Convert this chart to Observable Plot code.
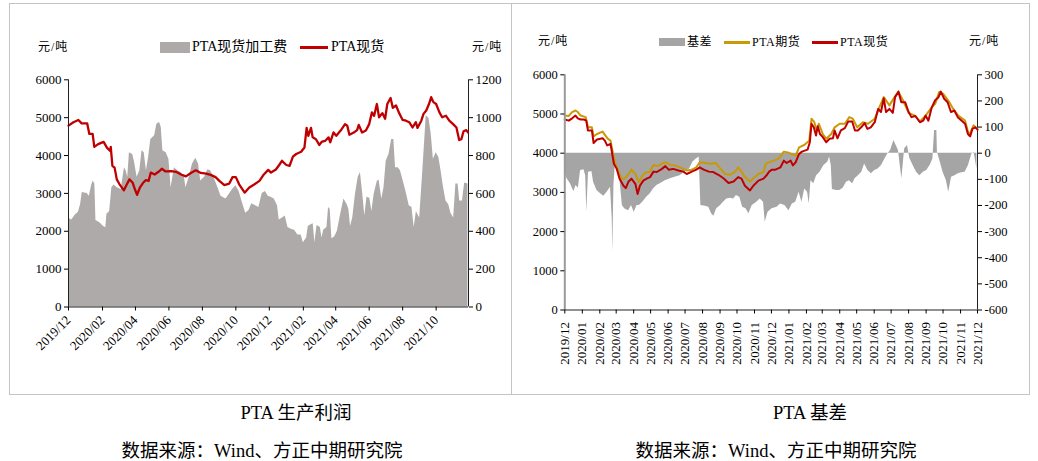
<!DOCTYPE html>
<html>
<head>
<meta charset="utf-8">
<script src="https://cdn.jsdelivr.net/npm/d3@7"></script>
<script src="https://cdn.jsdelivr.net/npm/@observablehq/plot@0.6"></script>
<style>
  html, body { margin: 0; padding: 0; background: #fff; }
  body { width: 1038px; height: 461px; position: relative; overflow: hidden;
         font-family: "Liberation Serif", "Noto Sans CJK SC", serif; color: #000; }
  .abs { position: absolute; white-space: nowrap; }
  .frame { position: absolute; border: 1px solid #c4c4c4; box-sizing: border-box; }
  .layer { position: absolute; left: 0; top: 0; }
  .layer svg { display: block; }
  .layer svg, .layer svg text, .layer svg g { font-family: "Liberation Serif", "Noto Sans CJK SC", serif !important; }
  .lg { font-size: 14px; line-height: 16px; letter-spacing: 0px; }
  .lg2 { font-size: 12px; line-height: 14px; letter-spacing: 0.5px; }
  .unit { font-size: 12px; line-height: 14px; letter-spacing: 1px; }
  .title { font-size: 18.5px; line-height: 22px; text-align: center; width: 320px; }
</style>
</head>
<body>
<div class="frame" style="left:9px;top:3px;width:1021px;height:392px;"></div>
<div class="abs" style="left:511px;top:3px;width:1px;height:392px;background:#c4c4c4;"></div>

<div id="leftPanel" class="abs" style="left:0;top:0;width:512px;height:380px;"></div>
<div id="rightPanel" class="abs" style="left:512px;top:0;width:526px;height:380px;"></div>

<!-- left legend -->
<div class="abs unit" style="left:38px;top:40px;">元/吨</div>
<div class="abs" style="left:160px;top:42px;width:30px;height:11px;background:#AEAAAA;"></div>
<div class="abs lg" style="left:192px;top:39px;" id="lgFee"></div>
<div class="abs" style="left:300px;top:46px;width:28px;height:2.5px;background:#C00000;"></div>
<div class="abs lg" style="left:331px;top:39px;" id="lgSpot"></div>
<div class="abs unit" style="left:472px;top:40px;">元/吨</div>

<!-- right legend -->
<div class="abs unit" style="left:538px;top:34px;">元/吨</div>
<div class="abs" style="left:659px;top:38px;width:26px;height:8px;background:#A5A5A5;"></div>
<div class="abs lg2" style="left:687px;top:35px;" id="lgBasis"></div>
<div class="abs" style="left:724px;top:41px;width:26px;height:2.5px;background:#C99A06;"></div>
<div class="abs lg2" style="left:752px;top:35px;" id="lgFut"></div>
<div class="abs" style="left:812px;top:41px;width:26px;height:2.5px;background:#C00000;"></div>
<div class="abs lg2" style="left:840px;top:35px;" id="lgSpot2"></div>
<div class="abs unit" style="left:969px;top:34px;">元/吨</div>

<div class="abs title" id="t1" style="left:136px;top:402px;"></div>
<div class="abs title" id="t2" style="left:650px;top:402px;"></div>
<div class="abs title" id="s1" style="left:102px;top:440px;"></div>
<div class="abs title" id="s2" style="left:616px;top:440px;"></div>

<script>
// ---------------- text ----------------
const titles = ["PTA 生产利润", "PTA 基差"];
const sourceText = "数据来源：Wind、方正中期研究院";
const legendLeft = ["PTA现货加工费", "PTA现货"];
const legendRight = ["基差", "PTA期货", "PTA现货"];

// ---------------- left chart: PTA 生产利润 ----------------
const profitTicksY = [0, 1000, 2000, 3000, 4000, 5000, 6000];
const feeTicksY = [0, 200, 400, 600, 800, 1000, 1200];
const profitTicksX = ["2019-12-01","2020-02-01","2020-04-01","2020-06-01","2020-08-01","2020-10-01",
  "2020-12-01","2021-02-01","2021-04-01","2021-06-01","2021-08-01","2021-10-01"];

// PTA现货 (元/吨, left axis)
const profitSpot = [
["2019-12-01",4790],["2019-12-10",4880],["2019-12-19",4940],["2019-12-25",4850],["2020-01-04",4850],
["2020-01-08",4570],["2020-01-14",4570],["2020-01-17",4230],["2020-01-24",4300],["2020-02-03",4360],
["2020-02-09",4210],["2020-02-15",4120],["2020-02-16",4230],["2020-02-19",3730],["2020-02-23",3680],
["2020-02-27",3370],["2020-03-03",3240],["2020-03-11",3080],["2020-03-15",3200],["2020-03-21",3370],
["2020-03-27",3280],["2020-03-30",3150],["2020-04-04",2960],["2020-04-09",3150],["2020-04-15",3280],
["2020-04-20",3350],["2020-04-25",3330],["2020-04-29",3550],["2020-05-06",3500],["2020-05-15",3590],
["2020-05-19",3650],["2020-05-26",3580],["2020-06-05",3590],["2020-06-14",3570],["2020-06-23",3500],
["2020-07-02",3450],["2020-07-11",3540],["2020-07-20",3610],["2020-07-29",3540],["2020-08-08",3520],
["2020-08-16",3490],["2020-08-25",3430],["2020-09-01",3330],["2020-09-10",3220],["2020-09-19",3260],
["2020-09-25",3430],["2020-10-01",3430],["2020-10-07",3240],["2020-10-17",3020],["2020-10-25",3150],
["2020-11-04",3240],["2020-11-13",3330],["2020-11-21",3500],["2020-11-29",3620],["2020-12-04",3550],
["2020-12-13",3630],["2020-12-19",3750],["2020-12-24",3860],["2021-01-01",3750],["2021-01-07",3730],
["2021-01-13",3970],["2021-01-19",4040],["2021-01-28",4100],["2021-02-03",4210],["2021-02-07",4730],
["2021-02-10",4520],["2021-02-15",4730],["2021-02-18",4480],["2021-02-24",4430],["2021-03-02",4280],
["2021-03-07",4370],["2021-03-13",4390],["2021-03-19",4480],["2021-03-22",4350],["2021-03-28",4610],
["2021-04-02",4520],["2021-04-10",4660],["2021-04-18",4830],["2021-04-22",4790],["2021-04-26",4550],
["2021-05-04",4610],["2021-05-10",4670],["2021-05-13",4810],["2021-05-19",4610],["2021-05-26",4660],
["2021-06-01",4830],["2021-06-06",5140],["2021-06-10",5050],["2021-06-15",5360],["2021-06-19",5010],
["2021-06-25",5120],["2021-06-30",4970],["2021-07-04",5360],["2021-07-10",5520],["2021-07-14",5260],
["2021-07-20",5320],["2021-07-25",5140],["2021-08-01",4940],["2021-08-07",4920],["2021-08-13",4880],
["2021-08-19",4740],["2021-08-25",4880],["2021-08-28",4730],["2021-09-04",4920],["2021-09-08",5100],
["2021-09-13",5190],["2021-09-18",5360],["2021-09-22",5540],["2021-09-26",5410],["2021-10-01",5360],
["2021-10-07",5140],["2021-10-12",5010],["2021-10-19",5050],["2021-10-25",4920],["2021-11-01",4830],
["2021-11-07",4740],["2021-11-12",4410],["2021-11-16",4430],["2021-11-20",4640],["2021-11-25",4670],
["2021-11-28",4610]
];

// PTA现货加工费 (元/吨, right axis)
const processingFee = [
["2019-12-01",470],["2019-12-07",460],["2019-12-13",485],["2019-12-19",500],["2019-12-23",540],
["2019-12-26",605],["2020-01-04",600],["2020-01-08",585],["2020-01-12",640],["2020-01-15",665],
["2020-01-18",650],["2020-01-20",457],["2020-01-27",445],["2020-02-03",425],["2020-02-07",418],
["2020-02-09",490],["2020-02-14",505],["2020-02-18",630],["2020-02-22",645],["2020-02-28",630],
["2020-03-06",620],["2020-03-12",735],["2020-03-15",720],["2020-03-18",685],["2020-03-21",815],
["2020-03-27",805],["2020-03-30",770],["2020-04-04",685],["2020-04-09",720],["2020-04-13",825],
["2020-04-17",815],["2020-04-21",720],["2020-04-25",790],["2020-04-29",885],["2020-05-06",905],
["2020-05-10",965],["2020-05-15",975],["2020-05-18",950],["2020-05-21",825],["2020-05-27",815],
["2020-06-01",780],["2020-06-05",630],["2020-06-11",735],["2020-06-17",720],["2020-06-23",710],
["2020-06-29",690],["2020-07-02",630],["2020-07-08",685],["2020-07-14",755],["2020-07-20",785],
["2020-07-25",755],["2020-07-29",665],["2020-08-05",685],["2020-08-11",725],["2020-08-16",720],
["2020-08-22",685],["2020-08-28",640],["2020-09-04",585],["2020-09-13",570],["2020-09-19",595],
["2020-09-25",620],["2020-10-01",640],["2020-10-07",610],["2020-10-13",550],["2020-10-19",495],
["2020-10-25",510],["2020-10-30",545],["2020-11-06",535],["2020-11-12",525],["2020-11-18",600],
["2020-11-24",610],["2020-11-29",585],["2020-12-04",580],["2020-12-10",570],["2020-12-16",535],
["2020-12-19",460],["2020-12-25",470],["2020-12-30",480],["2021-01-04",420],["2021-01-10",410],
["2021-01-16",405],["2021-01-22",380],["2021-01-28",380],["2021-02-01",340],["2021-02-07",365],
["2021-02-10",425],["2021-02-15",435],["2021-02-19",440],["2021-02-22",340],["2021-02-26",430],
["2021-03-04",420],["2021-03-07",365],["2021-03-10",405],["2021-03-16",420],["2021-03-19",525],
["2021-03-22",515],["2021-03-25",360],["2021-03-30",370],["2021-04-04",400],["2021-04-10",490],
["2021-04-16",570],["2021-04-22",540],["2021-04-25",515],["2021-04-28",425],["2021-05-02",470],
["2021-05-07",595],["2021-05-12",685],["2021-05-16",710],["2021-05-20",605],["2021-05-24",480],
["2021-05-28",580],["2021-06-02",575],["2021-06-06",505],["2021-06-10",595],["2021-06-16",665],
["2021-06-19",670],["2021-06-24",570],["2021-06-28",630],["2021-07-02",770],["2021-07-07",805],
["2021-07-12",885],["2021-07-16",885],["2021-07-19",735],["2021-07-24",735],["2021-07-28",720],
["2021-08-02",665],["2021-08-07",610],["2021-08-13",535],["2021-08-18",525],["2021-08-22",420],
["2021-08-26",505],["2021-09-01",470],["2021-09-06",685],["2021-09-10",870],["2021-09-13",1010],
["2021-09-18",995],["2021-09-22",915],["2021-09-26",780],["2021-10-01",815],["2021-10-06",790],
["2021-10-10",720],["2021-10-14",640],["2021-10-19",560],["2021-10-24",540],["2021-10-28",495],
["2021-11-02",470],["2021-11-06",650],["2021-11-10",650],["2021-11-13",560],["2021-11-18",560],
["2021-11-22",655],["2021-11-28",650]
];

// ---------------- right chart: PTA 基差 ----------------
const basisTicksY = [0, 1000, 2000, 3000, 4000, 5000, 6000];
const basisTicksY2 = [-600, -500, -400, -300, -200, -100, 0, 100, 200, 300];
const basisTicksX = ["2019-12-01","2020-01-01","2020-02-01","2020-03-01","2020-04-01","2020-05-01",
  "2020-06-01","2020-07-01","2020-08-01","2020-09-01","2020-10-01","2020-11-01","2020-12-01",
  "2021-01-01","2021-02-01","2021-03-01","2021-04-01","2021-05-01","2021-06-01","2021-07-01",
  "2021-08-01","2021-09-01","2021-10-01","2021-11-01","2021-12-01"];

// 基差 (元/吨, right axis)
const basis = [
["2019-12-01",-73],["2019-12-05",-98],["2019-12-11",-117],["2019-12-17",-147],["2019-12-21",-124],
["2019-12-25",-134],["2019-12-29",-66],["2020-01-04",-63],["2020-01-07",-86],["2020-01-09",-226],
["2020-01-12",-73],["2020-01-18",-70],["2020-01-21",-111],["2020-01-27",-143],["2020-02-03",-156],
["2020-02-08",-165],["2020-02-14",-149],["2020-02-20",-130],["2020-02-23",-252],["2020-02-24",-379],
["2020-02-26",-124],["2020-02-29",-28],["2020-03-07",-86],["2020-03-12",-200],["2020-03-16",-213],
["2020-03-23",-220],["2020-03-28",-200],["2020-04-02",-226],["2020-04-07",-200],["2020-04-11",-200],
["2020-04-17",-188],["2020-04-24",-169],["2020-04-30",-156],["2020-05-06",-137],["2020-05-12",-124],
["2020-05-18",-117],["2020-05-27",-105],["2020-06-05",-98],["2020-06-13",-92],["2020-06-22",-86],
["2020-06-30",-73],["2020-07-09",-60],["2020-07-15",-34],["2020-07-21",-22],["2020-07-26",-15],
["2020-07-29",-200],["2020-08-06",-203],["2020-08-12",-207],["2020-08-17",-232],["2020-08-21",-241],
["2020-08-26",-213],["2020-09-02",-200],["2020-09-07",-188],["2020-09-13",-175],["2020-09-19",-172],
["2020-09-25",-175],["2020-09-30",-162],["2020-10-06",-169],["2020-10-11",-207],["2020-10-17",-213],
["2020-10-22",-232],["2020-10-28",-200],["2020-11-05",-188],["2020-11-11",-175],["2020-11-17",-188],
["2020-11-20",-264],["2020-11-25",-226],["2020-12-02",-213],["2020-12-11",-207],["2020-12-17",-194],
["2020-12-25",-200],["2021-01-01",-220],["2021-01-07",-194],["2021-01-13",-188],["2021-01-19",-149],
["2021-01-24",-188],["2021-01-29",-137],["2021-02-03",-149],["2021-02-06",-194],["2021-02-09",-105],
["2021-02-14",-117],["2021-02-19",-86],["2021-02-25",-73],["2021-03-04",-47],["2021-03-11",-34],
["2021-03-14",-15],["2021-03-17",-47],["2021-03-19",-139],["2021-03-26",-143],["2021-04-01",-143],
["2021-04-07",-134],["2021-04-13",-111],["2021-04-18",-105],["2021-04-24",-117],["2021-04-28",-98],
["2021-05-04",-86],["2021-05-10",-73],["2021-05-15",-41],["2021-05-21",-66],["2021-05-27",-79],
["2021-06-02",-66],["2021-06-08",-60],["2021-06-14",-47],["2021-06-20",-22],["2021-06-25",-3],
["2021-06-30",10],["2021-07-06",49],["2021-07-10",29],["2021-07-14",10],["2021-07-20",-98],
["2021-07-25",17],["2021-07-30",29],["2021-08-03",-19],["2021-08-09",-47],["2021-08-15",-73],
["2021-08-21",-86],["2021-08-27",-73],["2021-09-02",-66],["2021-09-08",-47],["2021-09-13",-22],
["2021-09-16",87],["2021-09-20",87],["2021-09-21",4],["2021-09-26",-34],["2021-10-01",-73],
["2021-10-07",-105],["2021-10-11",-149],["2021-10-16",-92],["2021-10-22",-86],["2021-10-28",-79],
["2021-11-03",-75],["2021-11-09",-73],["2021-11-15",-47],["2021-11-21",-3],["2021-11-25",4],
["2021-11-30",-60]
];

// PTA期货 (元/吨, left axis)
const futures = [
["2019-12-01",4960],["2019-12-08",4950],["2019-12-14",5050],["2019-12-20",5090],["2019-12-24",5050],
["2019-12-29",4960],["2020-01-07",4920],["2020-01-11",4660],["2020-01-18",4660],["2020-01-21",4430],
["2020-01-27",4490],["2020-02-06",4550],["2020-02-11",4450],["2020-02-15",4370],["2020-02-20",4320],
["2020-02-25",3940],["2020-02-28",3770],["2020-03-05",3530],["2020-03-11",3350],["2020-03-16",3350],
["2020-03-23",3470],["2020-03-28",3580],["2020-04-04",3470],["2020-04-10",3260],["2020-04-15",3390],
["2020-04-21",3500],["2020-04-29",3520],["2020-05-06",3700],["2020-05-13",3670],["2020-05-21",3730],
["2020-05-27",3770],["2020-06-05",3700],["2020-06-13",3690],["2020-06-22",3640],["2020-07-04",3560],
["2020-07-13",3580],["2020-07-21",3640],["2020-07-27",3770],["2020-08-06",3750],["2020-08-15",3730],
["2020-08-24",3750],["2020-09-02",3600],["2020-09-10",3470],["2020-09-19",3450],["2020-09-28",3530],
["2020-10-03",3640],["2020-10-09",3530],["2020-10-15",3390],["2020-10-24",3280],["2020-10-30",3360],
["2020-11-08",3470],["2020-11-17",3520],["2020-11-21",3730],["2020-11-27",3770],["2020-12-05",3810],
["2020-12-14",3860],["2020-12-23",4040],["2021-01-01",4010],["2021-01-13",3940],["2021-01-19",4150],
["2021-01-28",4210],["2021-02-06",4320],["2021-02-10",4880],["2021-02-15",4790],["2021-02-19",4580],
["2021-02-23",4750],["2021-03-02",4490],["2021-03-08",4370],["2021-03-17",4490],["2021-03-23",4660],
["2021-04-01",4750],["2021-04-10",4750],["2021-04-18",4920],["2021-04-24",4880],["2021-05-02",4660],
["2021-05-12",4790],["2021-05-21",4750],["2021-06-02",4880],["2021-06-11",5200],["2021-06-18",5430],
["2021-06-28",5220],["2021-07-07",5430],["2021-07-14",5570],["2021-07-22",5350],["2021-08-01",5030],
["2021-08-12",4960],["2021-08-21",4810],["2021-08-31",4960],["2021-09-11",5170],["2021-09-17",5260],
["2021-09-24",5560],["2021-10-01",5520],["2021-10-10",5350],["2021-10-19",5130],["2021-10-28",4960],
["2021-11-09",4830],["2021-11-16",4450],["2021-11-24",4710],["2021-12-01",4620]
];

// PTA现货 (元/吨, left axis)
const basisSpot = [
["2019-12-01",4860],["2019-12-08",4830],["2019-12-14",4890],["2019-12-20",4960],["2019-12-24",4890],
["2019-12-29",4860],["2020-01-04",4860],["2020-01-08",4830],["2020-01-11",4580],["2020-01-18",4580],
["2020-01-21",4260],["2020-01-27",4350],["2020-02-06",4380],["2020-02-10",4320],["2020-02-14",4200],
["2020-02-20",4240],["2020-02-23",3980],["2020-02-26",3730],["2020-03-02",3600],["2020-03-07",3350],
["2020-03-14",3170],["2020-03-18",3110],["2020-03-23",3280],["2020-03-28",3350],["2020-04-04",3220],
["2020-04-08",2960],["2020-04-12",3170],["2020-04-18",3300],["2020-04-24",3350],["2020-04-30",3390],
["2020-05-06",3530],["2020-05-12",3520],["2020-05-21",3600],["2020-05-27",3670],["2020-06-02",3580],
["2020-06-10",3600],["2020-06-19",3560],["2020-06-28",3530],["2020-07-04",3470],["2020-07-13",3530],
["2020-07-21",3580],["2020-07-27",3640],["2020-08-03",3580],["2020-08-12",3530],["2020-08-20",3520],
["2020-08-29",3450],["2020-09-07",3360],["2020-09-16",3240],["2020-09-25",3280],["2020-10-03",3390],
["2020-10-09",3350],["2020-10-15",3170],["2020-10-24",3050],["2020-10-30",3170],["2020-11-08",3300],
["2020-11-17",3350],["2020-11-22",3430],["2020-11-27",3530],["2020-12-02",3580],["2020-12-08",3580],
["2020-12-17",3640],["2020-12-23",3810],["2020-12-28",3750],["2021-01-04",3810],["2021-01-08",3690],
["2021-01-13",3770],["2021-01-19",3980],["2021-01-24",4040],["2021-02-03",4090],["2021-02-07",4280],
["2021-02-10",4750],["2021-02-14",4660],["2021-02-18",4450],["2021-02-21",4690],["2021-02-25",4490],
["2021-03-02",4410],["2021-03-08",4280],["2021-03-14",4370],["2021-03-20",4380],["2021-03-23",4580],
["2021-03-28",4380],["2021-04-03",4580],["2021-04-10",4640],["2021-04-16",4810],["2021-04-23",4810],
["2021-04-28",4580],["2021-05-03",4580],["2021-05-09",4660],["2021-05-15",4770],["2021-05-20",4620],
["2021-05-26",4660],["2021-06-02",4790],["2021-06-08",5130],["2021-06-13",5050],["2021-06-18",5400],
["2021-06-22",5050],["2021-06-28",5130],["2021-07-04",5030],["2021-07-08",5430],["2021-07-14",5570],
["2021-07-19",5300],["2021-07-26",5300],["2021-08-01",5050],["2021-08-06",4920],["2021-08-13",4950],
["2021-08-21",4790],["2021-08-27",4830],["2021-08-31",4960],["2021-09-05",4830],["2021-09-11",5170],
["2021-09-17",5350],["2021-09-23",5430],["2021-09-27",5570],["2021-10-03",5390],["2021-10-09",5300],
["2021-10-15",5050],["2021-10-21",5090],["2021-10-27",4920],["2021-11-03",4830],["2021-11-09",4750],
["2021-11-14",4490],["2021-11-18",4430],["2021-11-22",4620],["2021-11-27",4660],["2021-12-01",4600]
];

// ---------------- build ----------------
const rows = pairs => pairs.map(([d, v]) => ({date: new Date(d), value: v}));
const dates = arr => arr.map(d => new Date(d));
const fmtDate = d3.utcFormat("%Y/%m");
const plain = d => String(d);

document.getElementById("t1").textContent = titles[0];
document.getElementById("t2").textContent = titles[1];
document.getElementById("s1").textContent = sourceText;
document.getElementById("s2").textContent = sourceText;
document.getElementById("lgFee").textContent = legendLeft[0];
document.getElementById("lgSpot").textContent = legendLeft[1];
document.getElementById("lgBasis").textContent = legendRight[0];
document.getElementById("lgFut").textContent = legendRight[1];
document.getElementById("lgSpot2").textContent = legendRight[2];

const serif = "'Liberation Serif', 'Noto Sans CJK SC', serif";
const baseStyle = {background: "transparent", fontFamily: serif, color: "#000", overflow: "visible"};

function addLayer(parent, svg) {
  const wrap = document.createElement("div");
  wrap.className = "layer";
  wrap.appendChild(svg);
  document.getElementById(parent).appendChild(wrap);
}

// Left panel geometry
const L = {width: 512, height: 380, marginLeft: 68, marginRight: 44, marginTop: 79.3, marginBottom: 73.5};
const lDomain = [new Date("2019-12-01"), new Date("2021-11-29")];

addLayer("leftPanel", Plot.plot({
  ...L,
  style: {...baseStyle, fontSize: "13px"},
  x: {type: "utc", domain: lDomain, axis: null},
  y: {domain: [0, 1200], axis: null},
  marks: [
    Plot.areaY(rows(processingFee), {x: "date", y1: 0, y2: "value", fill: "#AEAAAA"}),
    Plot.axisY({anchor: "right", ticks: feeTicksY, tickFormat: plain, tickSize: 4, tickPadding: 3, label: null, fontSize: 13, fontFamily: serif}),
    Plot.ruleX([lDomain[1]], {stroke: "#222", strokeWidth: 1})
  ]
}));

addLayer("leftPanel", Plot.plot({
  ...L,
  style: {...baseStyle, fontSize: "13px"},
  x: {type: "utc", domain: lDomain, axis: null},
  y: {domain: [0, 6000], axis: null},
  marks: [
    Plot.lineY(rows(profitSpot), {x: "date", y: "value", stroke: "#C00000", strokeWidth: 2.3, strokeLinejoin: "round"}),
    Plot.ruleX([lDomain[0]], {stroke: "#222", strokeWidth: 1}),
    Plot.ruleY([0], {stroke: "#222", strokeWidth: 1}),
    Plot.axisY({anchor: "left", ticks: profitTicksY, tickFormat: plain, tickSize: 4, tickPadding: 3, label: null, fontSize: 13, fontFamily: serif}),
    Plot.axisX({anchor: "bottom", ticks: dates(profitTicksX), tickFormat: fmtDate, tickRotate: -45, tickSize: 4, tickPadding: 7, label: null, fontSize: 13, fontFamily: serif})
  ]
}));

// Right panel geometry
const R = {width: 526, height: 380, marginLeft: 52.3, marginRight: 61, marginTop: 74.3, marginBottom: 70.5};
const rDomain = [new Date("2019-12-01"), new Date("2021-12-01")];

addLayer("rightPanel", Plot.plot({
  ...R,
  style: {...baseStyle, fontSize: "12.5px"},
  x: {type: "utc", domain: rDomain, axis: null},
  y: {domain: [-600, 300], axis: null},
  marks: [
    Plot.areaY(rows(basis), {x: "date", y1: 0, y2: "value", fill: "#A5A5A5"}),
    Plot.axisY({anchor: "right", ticks: basisTicksY2, tickFormat: plain, tickSize: 4, tickPadding: 3, label: null, fontSize: 12.5, fontFamily: serif}),
    Plot.ruleX([rDomain[1]], {stroke: "#222", strokeWidth: 1})
  ]
}));

addLayer("rightPanel", Plot.plot({
  ...R,
  style: {...baseStyle, fontSize: "12.5px"},
  x: {type: "utc", domain: rDomain, axis: null},
  y: {domain: [0, 6000], axis: null},
  marks: [
    Plot.lineY(rows(futures), {x: "date", y: "value", stroke: "#C99A06", strokeWidth: 2, strokeLinejoin: "round"}),
    Plot.lineY(rows(basisSpot), {x: "date", y: "value", stroke: "#C00000", strokeWidth: 2, strokeLinejoin: "round"}),
    Plot.ruleX([rDomain[0]], {stroke: "#9a9a9a", strokeWidth: 2}),
    Plot.ruleY([0], {stroke: "#222", strokeWidth: 1}),
    Plot.axisY({anchor: "left", ticks: basisTicksY, tickFormat: plain, tickSize: 4, tickPadding: 3, label: null, fontSize: 12.5, fontFamily: serif}),
    Plot.axisX({anchor: "bottom", ticks: dates(basisTicksX), tickFormat: fmtDate, tickRotate: -90, tickSize: 4, tickPadding: 8, label: null, fontSize: 13, fontFamily: serif})
  ]
}));
</script>
</body>
</html>
